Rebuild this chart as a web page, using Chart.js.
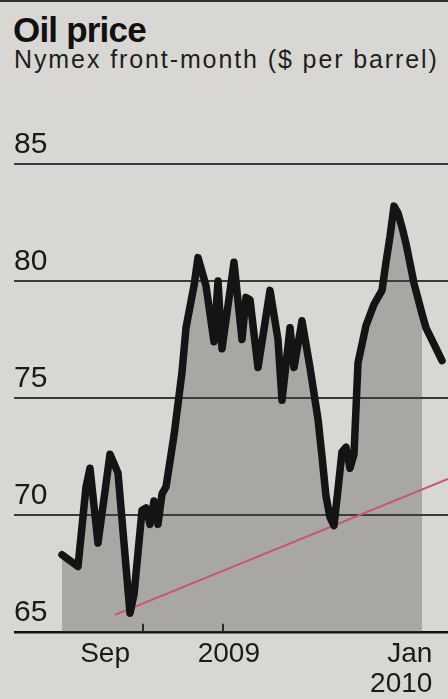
<!DOCTYPE html>
<html>
<head>
<meta charset="utf-8">
<script src="https://cdn.jsdelivr.net/npm/chart.js@4"></script>
<style>
  html, body { margin: 0; padding: 0; background: #d9d7d3; }
  #wrap { position: relative; width: 448px; height: 699px; overflow: hidden; }
  #rule { position: absolute; left: 0; top: 0; width: 448px; height: 2px; background: #2e2e2e; }
  #title { position: absolute; left: 13px; top: 12px; margin: 0;
           font: bold 35px/35px "Liberation Sans", Arial, sans-serif; letter-spacing: -0.8px; color: #111; }
  #sub { position: absolute; left: 14px; top: 47px; margin: 0;
         font: 25px/25px "Liberation Sans", Arial, sans-serif; letter-spacing: 1.9px; color: #1e1e1e; white-space: nowrap; }
  canvas { position: absolute; left: 0; top: 0; }
</style>
</head>
<body>
<div id="wrap">
  <div id="rule"></div>
  <h1 id="title">Oil price</h1>
  <div id="sub">Nymex front-month ($ per barrel)</div>
  <canvas id="c" width="448" height="699"></canvas>
</div>
<script>
// Trading-day index (0 = first session shown) and front-month settle, $/bbl
const days = [0, 4, 6, 7, 9, 12, 14, 17, 18, 20, 21, 22, 23, 24, 25, 26, 28, 30, 31, 33,
              34, 36, 38, 39, 40, 43, 45, 46, 47, 49, 52, 54, 55, 57, 58, 60, 62, 64, 65, 66,
              67, 68, 69, 70, 71, 72, 73, 74, 76, 78, 80, 81, 82, 83, 84, 85, 86, 88, 90, 91,
              93, 95];
const prices = [68.3, 67.8, 71.2, 72.0, 68.8, 72.6, 71.8, 65.8, 66.6, 70.2, 70.3, 69.6, 70.6, 69.6, 70.9, 71.2, 73.4, 76.1, 78.0, 79.8,
                81.0, 79.8, 77.4, 80.0, 77.1, 80.8, 77.5, 79.3, 79.2, 76.3, 79.6, 77.5, 74.9, 78.0, 76.3, 78.3, 76.3, 74.1, 72.5, 70.8,
                69.9, 69.55, 71.1, 72.7, 72.9, 72.0, 72.6, 76.5, 78.1, 79.0, 79.6, 80.8, 81.9, 83.2, 82.9, 82.3, 81.6, 79.9, 78.6, 78.0,
                77.3, 76.6];

// Support line joining the two lows
const trendDays = [13.25, 96.5];
const trendPrices = [65.73, 71.54];

// Month-boundary tick marks on the base line
const monthTickDays = [20.25, 40.25];

// Axis labels
const yTickValues = [65, 70, 75, 80, 85];
const xLabelDays = [17, 49.5, 92.6];
const xLabels = ['Sep', '2009', ['Jan', '2010']];

// The shaded area stops a little before the last sessions
const shadeEndDay = 90;

const FONT = '"Liberation Sans", Arial, sans-serif';

const pricePoints = days.map((d, i) => ({ x: d, y: prices[i] }));
const shadePoints = pricePoints.filter(p => p.x <= shadeEndDay);
const trendPoints = trendDays.map((d, i) => ({ x: d, y: trendPrices[i] }));
const tickPoints = monthTickDays.flatMap(d => [{ x: d, y: 65 }, { x: d, y: 65.35 }, { x: d, y: null }]);

new Chart(document.getElementById('c'), {
  type: 'line',
  data: {
    datasets: [
      {
        data: pricePoints, order: 0,
        borderColor: '#141414', borderWidth: 7.5,
        borderJoinStyle: 'round', borderCapStyle: 'round',
        pointRadius: 0, tension: 0, fill: false
      },
      {
        data: trendPoints, order: 1,
        borderColor: '#c8566a', borderWidth: 2,
        pointRadius: 0, fill: false
      },
      {
        data: shadePoints, order: 2,
        borderWidth: 0, borderColor: 'rgba(0,0,0,0)',
        backgroundColor: 'rgba(70,70,70,0.33)',
        pointRadius: 0, tension: 0, fill: 'start'
      },
      {
        data: tickPoints, order: 3,
        borderColor: '#222', borderWidth: 2,
        pointRadius: 0, spanGaps: false, fill: false
      }
    ]
  },
  options: {
    responsive: false,
    animation: false,
    devicePixelRatio: 1,
    layout: { autoPadding: false, padding: { left: 14, right: 0, top: 164, bottom: 0 } },
    plugins: { legend: { display: false }, tooltip: { enabled: false }, title: { display: false } },
    scales: {
      x: {
        type: 'linear', min: -12, max: 96.5, offset: false,
        grid: { display: false, drawTicks: false },
        border: { display: false },
        afterBuildTicks: s => { s.ticks = xLabelDays.map(v => ({ value: v })); },
        afterFit: s => { s.height = 67; },
        ticks: {
          autoSkip: false, maxRotation: 0, align: 'end', padding: 7,
          color: '#1a1a1a',
          font: { family: FONT, size: 28, lineHeight: 1.07 },
          callback: (v, i) => xLabels[i]
        }
      },
      y: {
        type: 'linear', min: 65, max: 85, position: 'left',
        afterBuildTicks: s => { s.ticks = yTickValues.map(v => ({ value: v })); },
        afterFit: s => { s.width = 0; },
        grid: {
          drawTicks: false,
          color: c => (c.tick && c.tick.value === 65) ? '#111' : '#3a3a3a',
          lineWidth: c => (c.tick && c.tick.value === 65) ? 2.5 : 2
        },
        border: { display: false },
        ticks: {
          mirror: true, padding: 0, labelOffset: -19,
          color: '#1a1a1a',
          font: { family: FONT, size: 30 },
          callback: v => String(v)
        }
      }
    }
  }
});
</script>
</body>
</html>
